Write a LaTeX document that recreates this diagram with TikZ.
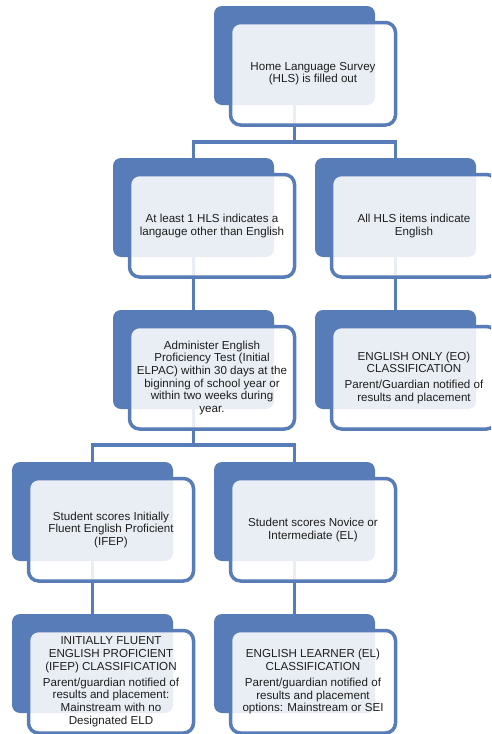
\documentclass[tikz,border=0pt]{standalone}
\usepackage{fontspec}
\setmainfont{Liberation Sans}
\definecolor{boxblue}{RGB}{88,124,184}
\definecolor{txt}{RGB}{30,30,30}
\tikzset{
  backbox/.style={draw=none, fill=boxblue, rounded corners=8pt, minimum width=161pt, minimum height=99pt, inner sep=0pt, outer sep=0pt},
  frontbox/.style={draw=boxblue, line width=3.5pt, fill=white, fill opacity=0.87, text opacity=1, rounded corners=10pt, minimum width=165pt, minimum height=102.5pt, inner sep=0pt, outer sep=0pt, align=center, text=txt, font=\fontsize{11.6}{12.6}\selectfont},
  conn/.style={draw=boxblue, line width=3.5pt}
}
\begin{document}
\begin{tikzpicture}[x=1pt,y=-1pt]
\clip (0,0) rectangle (491,734);
\fill[white] (0,0) rectangle (491,734);
% back boxes (left,top) + (80.5,49.5)
\node[backbox] (hlsB)  at (214+80.5, 6+49.5) {};
\node[backbox] (atlB)  at (113+80.5, 158+49.5) {};
\node[backbox] (allB)  at (315+80.5, 158+49.5) {};
\node[backbox] (admB)  at (113+80.5, 310+49.5) {};
\node[backbox] (eoB)   at (315+80.5, 310+49.5) {};
\node[backbox] (ifpB)  at (12+80.5, 462+49.5) {};
\node[backbox] (novB)  at (214+80.5, 462+49.5) {};
\node[backbox] (ifcB)  at (12+80.5, 614+49.5) {};
\node[backbox] (elcB)  at (214+80.5, 614+49.5) {};
% connectors
\coordinate (bar1) at (0,142);
\coordinate (bar2) at (0,445);
\draw[conn] (hlsB.south) -- (hlsB.south |- bar1) -| (atlB.north);
\draw[conn] (hlsB.south |- bar1) -| (allB.north);
\draw[conn] (atlB.south) -- (admB.north);
\draw[conn] (allB.south) -- (eoB.north);
\draw[conn] (admB.south) -- (admB.south |- bar2) -| (ifpB.north);
\draw[conn] (admB.south |- bar2) -| (novB.north);
\draw[conn] (ifpB.south) -- (ifcB.north);
\draw[conn] (novB.south) -- (elcB.north);
% front boxes (left,top) + (99,67.75)
\node[frontbox] (hls) at (214+99, 6+67.75) {Home Language Survey\\(HLS) is filled out};
\node[frontbox] (atl) at (113+99, 158+67.75) {At least 1 HLS indicates a\\langauge other than English};
\node[frontbox] (all) at (315+99, 158+67.75) {All HLS items indicate\\English};
\node[frontbox] (adm) at (113+99, 310+67.75) {Administer English\\Proficiency Test (Initial\\ELPAC) within 30 days at the\\biginning of school year or\\within two weeks during\\year.};
\node[frontbox] (eo) at (315+99, 310+67.75) {ENGLISH ONLY (EO)\\CLASSIFICATION\\[3.5pt]Parent/Guardian notified of\\results and placement};
\node[frontbox] (ifp) at (12+99, 462+67.75) {Student scores Initially\\Fluent English Proficient\\(IFEP)};
\node[frontbox] (nov) at (214+99, 462+67.75) {Student scores Novice or\\Intermediate (EL)};
\node[frontbox] (ifc) at (12+99, 614+67.75) {INITIALLY FLUENT\\ENGLISH PROFICIENT\\(IFEP) CLASSIFICATION\\[3.5pt]Parent/guardian notified of\\results and placement:\\Mainstream with no\\Designated ELD};
\node[frontbox] (elc) at (214+99, 614+67.75) {ENGLISH LEARNER (EL)\\CLASSIFICATION\\[3.5pt]Parent/guardian notified of\\results and placement\\options: Mainstream or SEI};
\end{tikzpicture}
\end{document}
